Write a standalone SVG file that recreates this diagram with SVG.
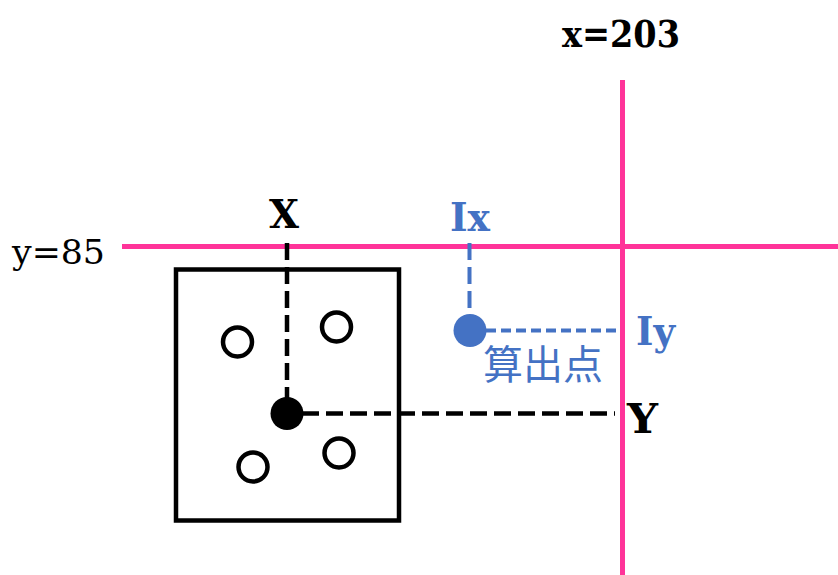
<svg xmlns="http://www.w3.org/2000/svg" width="838" height="575" viewBox="0 0 838 575">
<style>
.axis{stroke:#FF3399;stroke-width:5;fill:none}
.blk{stroke:#000;stroke-width:4.5;fill:none}
.dash{stroke:#000;stroke-width:4.5;stroke-dasharray:17 7;fill:none}
.bdash{stroke:#4472C4;stroke-width:4;fill:none}
.pt{fill:#fff;stroke:#000;stroke-width:4.5}
.lbl{font-family:"DejaVu Serif","Liberation Serif",serif;fill:#000}
.blue{fill:#4472C4}
</style>
<rect width="838" height="575" fill="#fff"/>
<g id="axes">
<line class="axis" x1="122" y1="246.5" x2="838" y2="246.5"/>
<line class="axis" x1="622.5" y1="80" x2="622.5" y2="575"/>
<text class="lbl" x="562" y="47" font-size="37" font-weight="bold" textLength="118" lengthAdjust="spacingAndGlyphs">x=203</text>
<text class="lbl" x="12" y="264" font-size="33" textLength="93" lengthAdjust="spacingAndGlyphs">y=85</text>
</g>
<g id="connectors">
<line class="dash" x1="287" y1="243" x2="287" y2="400"/>
<line class="dash" x1="302" y1="413.5" x2="615" y2="413.5"/>
<line class="bdash" x1="469.5" y1="243" x2="469.5" y2="318" stroke-dasharray="17 7"/>
<line class="bdash" x1="486" y1="330.5" x2="621" y2="330.5" stroke-dasharray="10 5"/>
</g>
<g id="box">
<rect class="blk" x="176" y="269.5" width="223" height="251"/>
</g>
<g id="points">
<circle class="pt" cx="237.5" cy="342" r="14.5"/>
<circle class="pt" cx="336.5" cy="327" r="14.5"/>
<circle class="pt" cx="253" cy="467" r="14.5"/>
<circle class="pt" cx="339" cy="453" r="14.5"/>
</g>
<g id="centroid">
<circle cx="287" cy="413.5" r="16.5" fill="#000"/>
<text class="lbl" x="284" y="228" font-size="40" font-weight="bold" text-anchor="middle" textLength="30" lengthAdjust="spacingAndGlyphs">X</text>
<text class="lbl" x="627" y="433" font-size="41" font-weight="bold" textLength="31" lengthAdjust="spacingAndGlyphs">Y</text>
</g>
<g id="calc-point">
<circle cx="470" cy="330.5" r="16.5" fill="#4472C4"/>
<text class="lbl blue" x="450" y="231" font-size="40" font-weight="bold" textLength="40" lengthAdjust="spacingAndGlyphs">Ix</text>
<text class="lbl blue" x="636" y="345" font-size="40" font-weight="bold" textLength="39" lengthAdjust="spacingAndGlyphs">Iy</text>
<text x="483" y="379" font-size="40" font-family="Noto Sans CJK JP, sans-serif" fill="#4472C4">算出点</text>
</g>
</svg>
